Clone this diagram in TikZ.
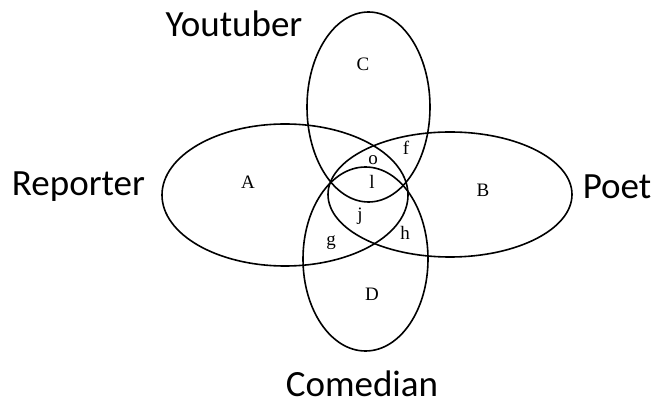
\documentclass[tikz,border=0pt]{standalone}
\usepackage{fontspec}
\setmainfont{Liberation Serif}
\newfontfamily\labfont{Carlito}
\begin{document}
\begin{tikzpicture}[x=1pt,y=-1pt,
  venn/.style={draw=black,line width=1.6pt},
  region/.style={font=\fontsize{19}{19}\selectfont,inner sep=0pt},
  setname/.style={font=\labfont\fontsize{37}{37}\selectfont,inner sep=0pt,anchor=base}]
\useasboundingbox (0,0) rectangle (656,403);
% ellipses
\draw[venn] (285,195) ellipse [x radius=123pt, y radius=71pt];
\draw[venn] (450,194.5) ellipse [x radius=122pt, y radius=62.5pt];
\draw[venn] (368.5,107) ellipse [x radius=61.5pt, y radius=95pt];
\draw[venn] (365.5,259) ellipse [x radius=62.5pt, y radius=92pt];
% region labels
\node[region] (rA) at (248,182) {A};
\node[region] (rB) at (483,190) {B};
\node[region] (rC) at (363,64) {C};
\node[region] (rD) at (372,294) {D};
\node[region] (ro) at (373,160) {o};
\node[region] (rf) at (406,148) {f};
\node[region] (rl) at (372,182) {l};
\node[region] (rj) at (360,216) {j};
\node[region] (rg) at (331,243) {g};
\node[region] (rh) at (405,233) {h};
% set names
\node[setname] (youtuber) at (234,37) {Youtuber};
\node[setname] (reporter) at (78.5,196) {Reporter};
\node[setname] (poet) at (617,199) {Poet};
\node[setname] (comedian) at (362,396) {Comedian};
\end{tikzpicture}
\end{document}
